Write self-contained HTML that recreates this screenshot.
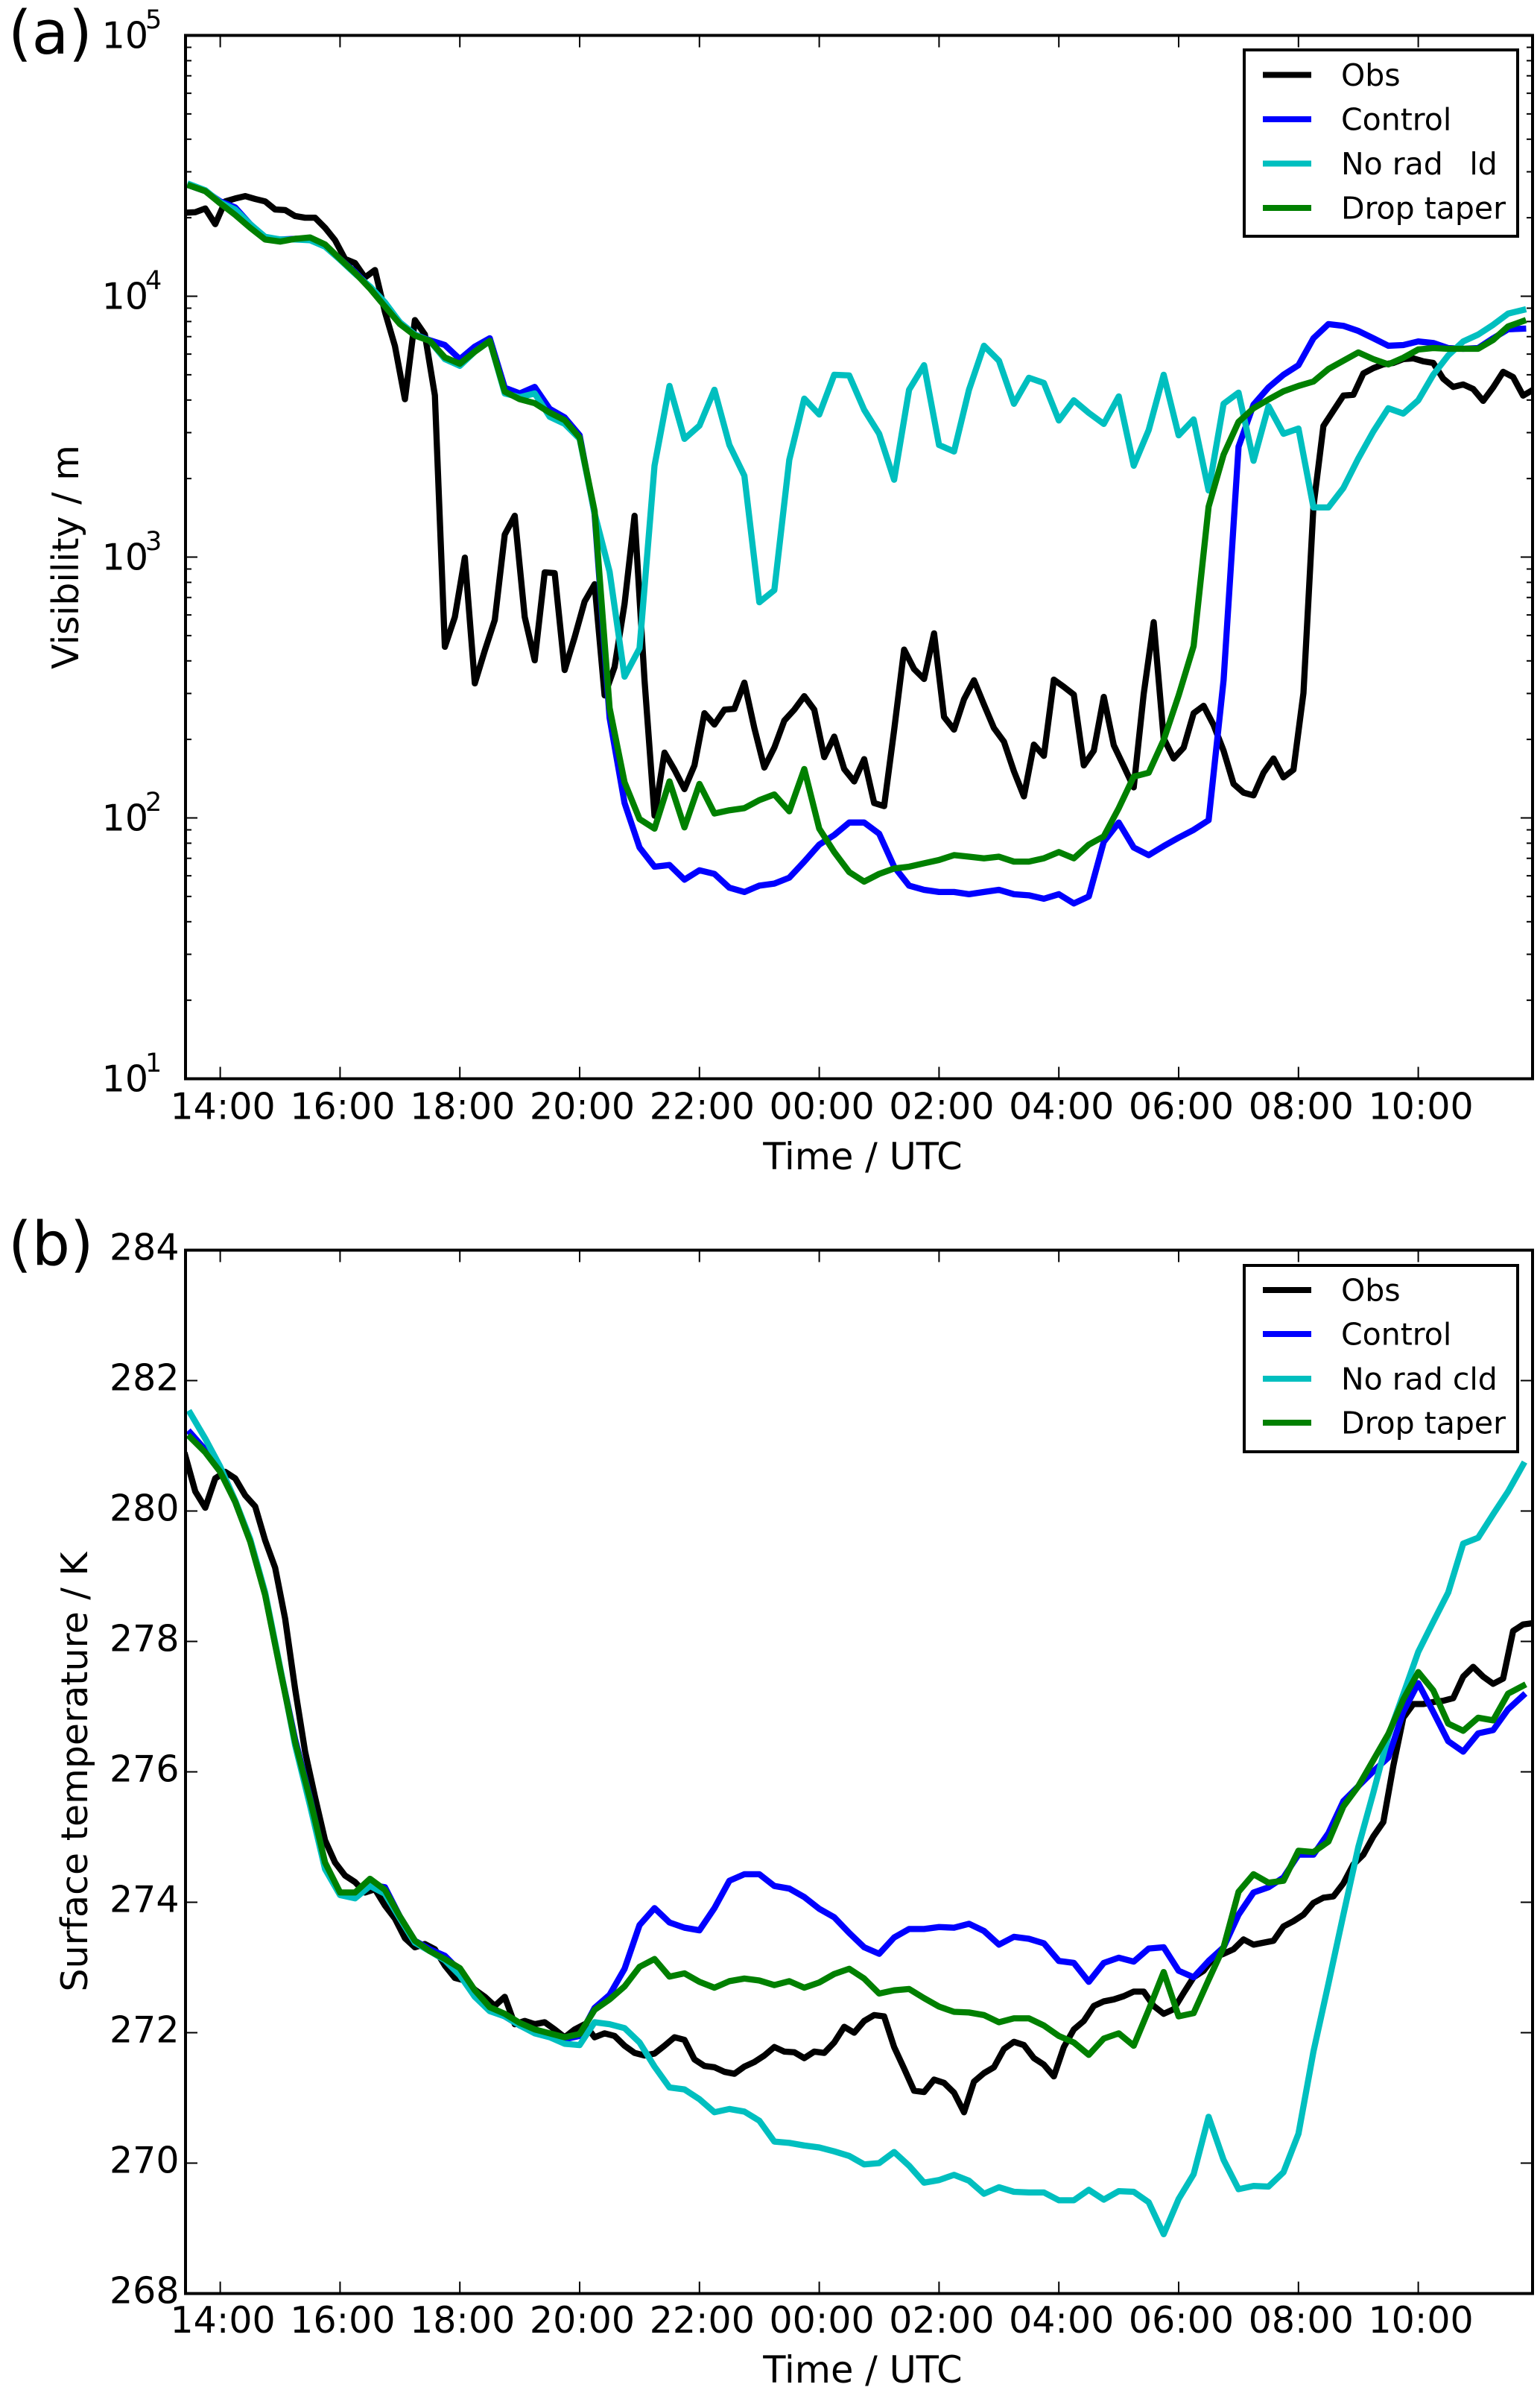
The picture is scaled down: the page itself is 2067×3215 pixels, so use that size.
<!DOCTYPE html>
<html lang="en">
<head>
<meta charset="utf-8">
<title>Visibility and surface temperature time series</title>
<style>
html,body{margin:0;padding:0;background:#fff;}
svg{display:block;}
text{font-family:"DejaVu Sans","Liberation Sans",sans-serif;fill:#000;}
</style>
</head>
<body>
<svg id="figure" xmlns="http://www.w3.org/2000/svg" width="2067" height="3215" viewBox="0 0 2067 3215">
<defs>
<clipPath id="clip-a"><rect x="249" y="47.5" width="1808" height="1400"/></clipPath>
<clipPath id="clip-b"><rect x="249" y="1677.5" width="1808" height="1400"/></clipPath>
</defs>
<rect width="2067" height="3215" fill="#fff"/>
<g id="panel-a"></g>
<g id="panel-b"></g>
<text x="11" y="72" font-size="81">(a)</text>
<text x="11" y="1697" font-size="81">(b)</text>
<text transform="translate(105 747.5) rotate(-90)" text-anchor="middle" font-size="49">Visibility / m</text>
<text transform="translate(117 2377.5) rotate(-90)" text-anchor="middle" font-size="49">Surface temperature / K</text>
<text x="1158" y="1569" text-anchor="middle" font-size="49.5">Time / UTC</text>
<text x="1158" y="3197" text-anchor="middle" font-size="49.5">Time / UTC</text>

<g>
<rect x="1670" y="67" width="367" height="250" fill="#fff" stroke="#000" stroke-width="4"/>
<line x1="1695" x2="1760" y1="100.5" y2="100.5" stroke="#000" stroke-width="8"/>
<text x="1800" y="115" font-size="41">Obs</text>
<line x1="1695" x2="1760" y1="160" y2="160" stroke="#0000ff" stroke-width="8"/>
<text x="1800" y="174.5" font-size="41">Control</text>
<line x1="1695" x2="1760" y1="219.5" y2="219.5" stroke="#00bfbf" stroke-width="8"/>
<text x="1800" y="234" font-size="41">No rad <tspan dx="22.5">ld</tspan></text>
<line x1="1695" x2="1760" y1="279" y2="279" stroke="#008000" stroke-width="8"/>
<text x="1800" y="293.5" font-size="41">Drop taper</text>
</g>

<g>
<rect x="1670" y="1698" width="367" height="250" fill="#fff" stroke="#000" stroke-width="4"/>
<line x1="1695" x2="1760" y1="1731" y2="1731" stroke="#000" stroke-width="8"/>
<text x="1800" y="1745.5" font-size="41">Obs</text>
<line x1="1695" x2="1760" y1="1790" y2="1790" stroke="#0000ff" stroke-width="8"/>
<text x="1800" y="1804.5" font-size="41">Control</text>
<line x1="1695" x2="1760" y1="1850" y2="1850" stroke="#00bfbf" stroke-width="8"/>
<text x="1800" y="1864.5" font-size="41">No rad cld</text>
<line x1="1695" x2="1760" y1="1909" y2="1909" stroke="#008000" stroke-width="8"/>
<text x="1800" y="1923.5" font-size="41">Drop taper</text>
</g>
</svg>

<script>
// Time axis categories (hours after 14:00 UTC)
const timeTickHours = [0,2,4,6,8,10,12,14,16,18,20];
const timeTickLabels = ["14:00","16:00","18:00","20:00","22:00","00:00","02:00","04:00","06:00","08:00","10:00"];
const modelStartHour = -0.5;
const modelStepHours = 0.25;
const obsStartHour = -7/12;
const obsStepHours = 1/6;

// Panel (a) tick values
const visTickExponents = [1,2,3,4,5];
const tempTicks = [268,270,272,274,276,278,280,282,284];

// Panel (a): visibility in metres
const visObs = [
20900,21000,21700,18900,23100,23700,24200,23600,23100,21500,
21400,20300,20000,20000,18300,16400,13900,13400,11800,12600,
8700,6440,4030,8100,7130,4170,453,589,995,328,
438,574,1220,1440,589,402,874,868,369,493,
676,787,295,379,662,1440,337,102,178,153,
129,159,252,228,260,262,330,221,156,186,
236,260,293,260,171,205,154,138,168,114,
111,217,442,372,341,510,244,218,285,337,
272,221,196,151,121,191,173,339,318,297,
159,181,291,190,158,131,299,563,202,169,
186,252,269,227,181,135,125,122,149,169,
143,153,301,1560,3180,3640,4160,4190,5060,5300,
5480,5550,5740,5780,5630,5550,4830,4490,4590,4410,
3970,4470,5130,4900,4160,4380];
const visControl = [
26500,25300,23100,21900,18900,16800,16500,16600,16600,15700,
13900,12400,10800,9330,7940,7130,6780,6500,5740,6410,
6900,4460,4240,4490,3700,3430,2930,1460,242,114,
77,65,66,58,63,61,54,52,55,56,
59,68,79,86,96,96,87,65,55,53,
52,52,51,52,53,51,50.5,49,51,47,
50,81,96,77,72,78,84,90,98,337,
2650,3840,4470,5000,5440,6900,7820,7700,7360,6900,
6460,6500,6710,6620,6330,6290,6330,6900,7470,7510];
const visNoRad = [
26800,25500,22900,21500,18900,16900,16500,16500,16400,15500,
13800,12200,10900,9470,7940,7130,6740,5740,5410,6130,
6740,4240,4100,4240,3450,3240,2840,1470,879,348,
447,2240,4530,2840,3190,4380,2690,2050,671,747,
2360,4050,3520,5000,4970,3670,2970,1980,4380,5440,
2690,2540,4380,6460,5660,3870,4870,4650,3340,3990,
3570,3240,4130,2240,3070,5000,2930,3370,1800,3870,
4270,2340,3790,2970,3110,1550,1550,1840,2390,3030,
3720,3550,3990,5000,5930,6710,7130,7770,8580,8860];
const visDrop = [
26500,25300,22700,20500,18300,16500,16200,16600,16800,15800,
13900,12300,10700,9140,7820,7070,6740,5830,5510,6130,
6740,4310,4030,3890,3580,3350,2870,1500,264,137,
99,91,138,92,135,104,107,109,117,123,
106,154,91,74,62,57,61,64,65,67,
69,72,71,70,71,68,68,70,74,70,
79,85,109,144,149,199,295,456,1560,2470,
3300,3720,4020,4320,4530,4710,5260,5660,6090,5740,
5480,5810,6250,6330,6290,6290,6290,6800,7660,8030];

// Panel (b): surface temperature in kelvin
const tempObs = [
280.85,280.3,280.05,280.5,280.6,280.5,280.24,280.07,279.55,279.13,
278.35,277.27,276.31,275.61,274.95,274.61,274.41,274.31,274.15,274.2,
273.95,273.75,273.45,273.31,273.36,273.28,273.03,272.84,272.8,272.66,
272.55,272.41,272.55,272.13,272.18,272.13,272.16,272.05,271.93,272.05,
272.13,271.93,271.99,271.95,271.8,271.69,271.65,271.68,271.8,271.93,
271.89,271.59,271.49,271.47,271.4,271.37,271.48,271.55,271.65,271.78,
271.71,271.7,271.61,271.71,271.69,271.85,272.09,272,272.18,272.27,
272.25,271.78,271.45,271.11,271.09,271.28,271.23,271.08,270.78,271.25,
271.38,271.47,271.75,271.86,271.81,271.61,271.51,271.33,271.78,272.05,
272.18,272.41,272.48,272.51,272.56,272.63,272.63,272.41,272.29,272.36,
272.61,272.85,272.95,273.15,273.21,273.28,273.43,273.35,273.38,273.41,
273.63,273.71,273.81,273.99,274.07,274.09,274.29,274.58,274.73,275.01,
275.23,276.09,276.83,277.04,277.04,277.07,277.09,277.13,277.46,277.61,
277.46,277.35,277.43,278.16,278.26,278.28];
const tempControl = [
281.2,280.94,280.62,280.14,279.55,278.72,277.58,276.5,275.6,274.6,
274.15,274.1,274.27,274.23,273.78,273.41,273.28,273.18,272.95,272.58,
272.35,272.25,272.11,272.01,271.95,271.9,271.95,272.38,272.58,272.98,
273.65,273.91,273.69,273.61,273.57,273.91,274.33,274.43,274.43,274.25,
274.21,274.08,273.9,273.77,273.53,273.31,273.21,273.46,273.59,273.59,
273.62,273.61,273.67,273.56,273.35,273.47,273.44,273.37,273.1,273.07,
272.78,273.07,273.15,273.09,273.29,273.31,272.95,272.85,273.1,273.31,
273.81,274.15,274.23,274.38,274.73,274.73,275.06,275.55,275.78,276.01,
276.22,276.92,277.36,276.92,276.47,276.31,276.59,276.64,276.96,277.17];
const tempNoRad = [
281.5,281.11,280.68,280.16,279.57,278.75,277.6,276.41,275.48,274.51,
274.11,274.06,274.25,274.13,273.75,273.38,273.25,273.11,272.88,272.55,
272.33,272.25,272.11,271.99,271.93,271.83,271.81,272.16,272.13,272.07,
271.85,271.48,271.16,271.13,270.98,270.78,270.83,270.79,270.65,270.33,
270.31,270.27,270.24,270.18,270.11,269.98,270,270.17,269.96,269.7,
269.74,269.82,269.73,269.53,269.63,269.56,269.55,269.55,269.43,269.43,
269.59,269.44,269.57,269.56,269.4,268.91,269.45,269.83,270.71,270.05,
269.6,269.65,269.64,269.86,270.45,271.71,272.75,273.81,274.85,275.68,
276.55,277.19,277.84,278.3,278.75,279.5,279.59,279.95,280.3,280.71];
const tempDrop = [
281.13,280.9,280.6,280.14,279.53,278.71,277.57,276.46,275.58,274.61,
274.15,274.15,274.36,274.19,273.78,273.41,273.25,273.13,272.99,272.65,
272.39,272.29,272.15,272.05,271.99,271.93,271.98,272.35,272.51,272.71,
273.01,273.13,272.86,272.91,272.78,272.69,272.79,272.83,272.8,272.73,
272.79,272.69,272.77,272.9,272.98,272.83,272.6,272.65,272.67,272.53,
272.4,272.32,272.31,272.27,272.16,272.22,272.22,272.11,271.95,271.85,
271.66,271.91,271.99,271.8,272.35,272.93,272.25,272.3,272.81,273.31,
274.16,274.43,274.3,274.33,274.79,274.77,274.93,275.47,275.78,276.18,
276.58,277.11,277.53,277.25,276.74,276.63,276.83,276.79,277.2,277.32];

const SVGNS = 'http://www.w3.org/2000/svg';
const LEFT = 249, RIGHT = 2057;
const A_TOP = 47.5, A_BOTTOM = 1447.5;
const B_TOP = 1677.5, B_BOTTOM = 3077.5;

function xScale(hour) { return 295.6 + hour * 80.4; }
function yVis(v) { return A_BOTTOM - (Math.log10(v) - 1) * 350; }
function yTemp(t) { return B_BOTTOM - (t - 268) * 87.5; }

function addLine(parent, x1, y1, x2, y2, width) {
  const el = document.createElementNS(SVGNS, 'line');
  el.setAttribute('x1', x1);
  el.setAttribute('y1', y1);
  el.setAttribute('x2', x2);
  el.setAttribute('y2', y2);
  el.setAttribute('stroke', '#000');
  el.setAttribute('stroke-width', width);
  parent.appendChild(el);
  return el;
}

function addText(parent, x, y, size, anchor, str) {
  const el = document.createElementNS(SVGNS, 'text');
  el.setAttribute('x', x);
  el.setAttribute('y', y);
  el.setAttribute('font-size', size);
  el.setAttribute('text-anchor', anchor);
  el.textContent = str;
  parent.appendChild(el);
  return el;
}

function drawSeries(parent, clipId, values, start, step, yFn, color, name) {
  const pts = values.map(function (v, i) {
    return xScale(start + i * step).toFixed(2) + ',' + yFn(v).toFixed(2);
  }).join(' ');
  const el = document.createElementNS(SVGNS, 'polyline');
  el.setAttribute('points', pts);
  el.setAttribute('fill', 'none');
  el.setAttribute('stroke', color);
  el.setAttribute('stroke-width', '8.3');
  el.setAttribute('stroke-linejoin', 'round');
  el.setAttribute('stroke-linecap', 'square');
  el.setAttribute('clip-path', 'url(#' + clipId + ')');
  
  
  parent.appendChild(el);
}

function drawTimeAxis(parent, top, bottom, labelY, suffix) {
  timeTickHours.forEach(function (h, i) {
    const x = xScale(h);
    const bottomTick = addLine(parent, x, bottom, x, bottom - 16, 2);
    
    
    const topTick = addLine(parent, x, top, x, top + 16, 2);
    
    
    const label = addText(parent, x + 3.5, labelY, 49, 'middle', timeTickLabels[i]);
    
    
  });
}

function drawFrame(parent, top, bottom, suffix) {
  const frame = document.createElementNS(SVGNS, 'rect');
  frame.setAttribute('x', LEFT);
  frame.setAttribute('y', top);
  frame.setAttribute('width', RIGHT - LEFT);
  frame.setAttribute('height', bottom - top);
  frame.setAttribute('fill', 'none');
  frame.setAttribute('stroke', '#000');
  frame.setAttribute('stroke-width', '4');
  
  
  parent.appendChild(frame);
}

// Panel (a)
const panelA = document.getElementById('panel-a');
visTickExponents.forEach(function (exp) {
  const y = yVis(Math.pow(10, exp));
  const leftTick = addLine(panelA, LEFT, y, LEFT + 16, y, 2);
  
  
  const rightTick = addLine(panelA, RIGHT, y, RIGHT - 16, y, 2);
  
  
  const base = addText(panelA, 199, y + 17, 49, 'end', '10');
  
  
  const sup = addText(panelA, 195, y - 9.5, 35, 'start', String(exp));
  
  
  if (exp < 5) {
    for (let m = 2; m <= 9; m++) {
      const my = yVis(m * Math.pow(10, exp));
      const minorL = addLine(panelA, LEFT, my, LEFT + 8, my, 2);
      
      
      const minorR = addLine(panelA, RIGHT, my, RIGHT - 8, my, 2);
      
      
    }
  }
});
drawTimeAxis(panelA, A_TOP, A_BOTTOM, 1501.5, 'a');
drawSeries(panelA, 'clip-a', visObs, obsStartHour, obsStepHours, yVis, '#000000', 'series-a-obs');
drawSeries(panelA, 'clip-a', visControl, modelStartHour, modelStepHours, yVis, '#0000ff', 'series-a-control');
drawSeries(panelA, 'clip-a', visNoRad, modelStartHour, modelStepHours, yVis, '#00bfbf', 'series-a-no-rad');
drawSeries(panelA, 'clip-a', visDrop, modelStartHour, modelStepHours, yVis, '#008000', 'series-a-drop-taper');
drawFrame(panelA, A_TOP, A_BOTTOM, 'a');

// Panel (b)
const panelB = document.getElementById('panel-b');
tempTicks.forEach(function (t) {
  const y = yTemp(t);
  const leftTick = addLine(panelB, LEFT, y, LEFT + 16, y, 2);
  
  
  const rightTick = addLine(panelB, RIGHT, y, RIGHT - 16, y, 2);
  
  
  const label = addText(panelB, 240.5, y + 13, 49, 'end', String(t));
  
  
});
drawTimeAxis(panelB, B_TOP, B_BOTTOM, 3130, 'b');
drawSeries(panelB, 'clip-b', tempObs, obsStartHour, obsStepHours, yTemp, '#000000', 'series-b-obs');
drawSeries(panelB, 'clip-b', tempControl, modelStartHour, modelStepHours, yTemp, '#0000ff', 'series-b-control');
drawSeries(panelB, 'clip-b', tempNoRad, modelStartHour, modelStepHours, yTemp, '#00bfbf', 'series-b-no-rad');
drawSeries(panelB, 'clip-b', tempDrop, modelStartHour, modelStepHours, yTemp, '#008000', 'series-b-drop-taper');
drawFrame(panelB, B_TOP, B_BOTTOM, 'b');
</script>
</body>
</html>
